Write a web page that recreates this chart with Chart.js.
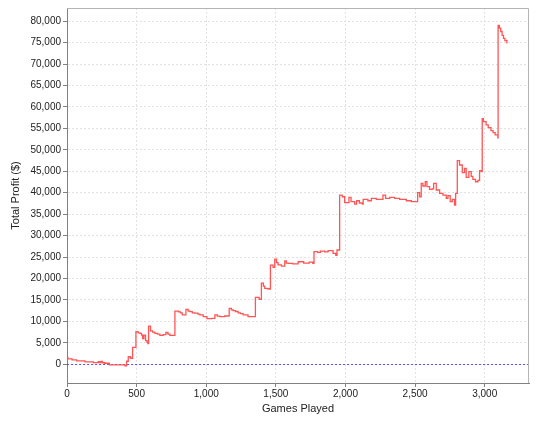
<!DOCTYPE html>
<html>
<head>
<meta charset="utf-8">
<script src="https://cdn.jsdelivr.net/npm/chart.js@4"></script>
<style>
  html, body { margin: 0; padding: 0; background: #ffffff; }
  #wrap { width: 543px; height: 422px; position: relative; }
</style>
</head>
<body>
<div id="wrap"><canvas id="profitChart"></canvas></div>
<script>
// Games played (x) and running total profit in $ (y)
const gamesPlayed = [
    0, 7, 36, 69, 129, 189, 225, 235, 245, 255, 270, 304, 416, 428, 440, 456, 471, 495,
    510, 524, 535, 543, 552, 564, 575, 581, 586, 600, 615, 631, 650, 667, 690, 710, 725, 739,
    775, 800, 815, 828, 854, 870, 882, 900, 918, 940, 954, 978, 1005, 1040, 1062, 1080, 1098,
    1133, 1165, 1180, 1193, 1210, 1229, 1245, 1265, 1300, 1353, 1380, 1396, 1410, 1420, 1440,
    1456, 1461, 1480, 1492, 1505, 1516, 1540, 1564, 1575, 1588, 1620, 1660, 1700, 1740, 1765,
    1774, 1800, 1820, 1850, 1875, 1911, 1930, 1939, 1958, 1977, 1994, 2018, 2025, 2040, 2066,
    2080, 2100, 2121, 2127, 2161, 2186, 2221, 2269, 2288, 2317, 2353, 2389, 2437, 2473, 2509,
    2518, 2532, 2544, 2556, 2573, 2585, 2604, 2623, 2633, 2652, 2676, 2700, 2724, 2736, 2752,
    2767, 2783, 2791, 2803, 2819, 2839, 2855, 2867, 2886, 2903, 2915, 2934, 2951, 2963, 2975,
    2982, 2990, 3010, 3025, 3045, 3060, 3075, 3094, 3096, 3105, 3115, 3125, 3135, 3145, 3159
];
const totalProfit = [
    1600, 1250, 1000, 780, 540, 380, 600, 400, 650, 350, 230, -150, -380, 700, 1750, 1400, 3950, 7600,
    7300, 7200, 6800, 6000, 6800, 5500, 5100, 4800, 8900, 7800, 7500, 7200, 7000, 6750, 6900, 7400, 7000, 6750,
    12400, 12200, 12000, 11500, 12800, 12400, 12250, 12000, 11900, 11700, 11500, 11100, 10650, 10700, 11500, 11200, 11100,
    11250, 13050, 12700, 12500, 12300, 12000, 11800, 11500, 11100, 15600, 15150, 18900, 18200, 17700, 17600,
    17500, 23100, 22600, 24500, 23700, 23150, 22900, 24100, 23600, 23500, 23400, 23900, 23600, 23800, 23500,
    26250, 26100, 26400, 26200, 26500, 25870, 25400, 26640, 39460, 39060, 37670, 37670, 38920, 37900, 37360,
    38130, 37600, 37360, 38460, 38130, 38690, 38460, 39460, 38690, 38920, 38690, 38460, 38130, 37900, 37900,
    40000, 39060, 42190, 41560, 42560, 41400, 40790, 40900, 42190, 40630, 39860, 39460, 38690, 39300, 37900,
    38460, 37130, 39860, 47460, 46460, 44670, 45690, 43590, 44900, 43800, 43130, 42560, 42900, 45130, 44900,
    57300, 56600, 55800, 55200, 54500, 54000, 53500, 52800, 79000, 78400, 77600, 76700, 76000, 75500, 74800
];

// Axis ranges and tick values
const xRange = [0, 3318];
const yRange = [-4375, 83075];
const xTicks = [0, 500, 1000, 1500, 2000, 2500, 3000];
const yTicks = [0, 5000, 10000, 15000, 20000, 25000, 30000, 35000, 40000,
                45000, 50000, 55000, 60000, 65000, 70000, 75000, 80000];
const markerValue = 0;

const tickFont = { family: 'Liberation Sans', size: 10 };
const titleFont = { family: 'Liberation Sans', size: 11 };

// Blue dashed line at zero and grey frame round the plot
const plotExtras = {
    id: 'plotExtras',
    beforeDatasetsDraw(chart) {
        const { ctx, chartArea, scales } = chart;
        const y = Math.round(scales.y.getPixelForValue(markerValue)) + 0.5;
        ctx.save();
        ctx.strokeStyle = 'rgba(64, 64, 255, 0.85)';
        ctx.lineWidth = 1;
        ctx.setLineDash([2, 2]);
        ctx.beginPath();
        ctx.moveTo(chartArea.left, y);
        ctx.lineTo(chartArea.right, y);
        ctx.stroke();
        ctx.restore();
    },
    afterDraw(chart) {
        const { ctx, chartArea } = chart;
        ctx.save();
        ctx.strokeStyle = '#b4b4b4';
        ctx.lineWidth = 1;
        ctx.beginPath();
        ctx.moveTo(chartArea.left, chartArea.top + 0.5);
        ctx.lineTo(chartArea.right - 0.5, chartArea.top + 0.5);
        ctx.lineTo(chartArea.right - 0.5, chartArea.bottom);
        ctx.stroke();
        ctx.restore();
    }
};

function axisOptions(range, tickValues, size, title, titlePadding, labelPadding) {
    return {
        type: 'linear',
        min: range[0],
        max: range[1],
        afterFit: size,
        afterBuildTicks: (scale) => { scale.ticks = tickValues.map(v => ({ value: v })); },
        ticks: {
            autoSkip: false,
            maxRotation: 0,
            padding: labelPadding,
            color: '#222222',
            font: tickFont,
            callback: (v) => v.toLocaleString('en-US')
        },
        grid: {
            color: '#e2e2e2',
            tickColor: '#808080',
            tickLength: 4,
            tickBorderDash: []
        },
        border: { color: '#808080', dash: [2, 2] },
        title: {
            display: true,
            text: title,
            color: '#222222',
            font: titleFont,
            padding: titlePadding
        }
    };
}

const ctx = document.getElementById('profitChart').getContext('2d');
const profitChart = new Chart(ctx, {
    type: 'line',
    data: {
        datasets: [{
            label: 'Total Profit',
            data: gamesPlayed.map((g, i) => ({ x: g, y: totalProfit[i] })),
            borderColor: 'rgb(255, 85, 85)',
            borderWidth: 1.3,
            pointRadius: 0,
            stepped: true,
            fill: false
        }]
    },
    options: {
        responsive: true,
        maintainAspectRatio: false,
        animation: false,
        locale: 'en-US',
        layout: { padding: { top: 8, right: 14, left: 0, bottom: 0 } },
        plugins: {
            legend: { display: false },
            tooltip: { enabled: false }
        },
        scales: {
            x: axisOptions(xRange, xTicks, (s) => { s.height = 39; }, 'Games Played',
                { top: 0, bottom: 6 }, 1),
            y: axisOptions(yRange, yTicks, (s) => { s.width = 67; }, 'Total Profit ($)',
                { top: 9, bottom: 0 }, 2)
        }
    },
    plugins: [plotExtras]
});
</script>
</body>
</html>
